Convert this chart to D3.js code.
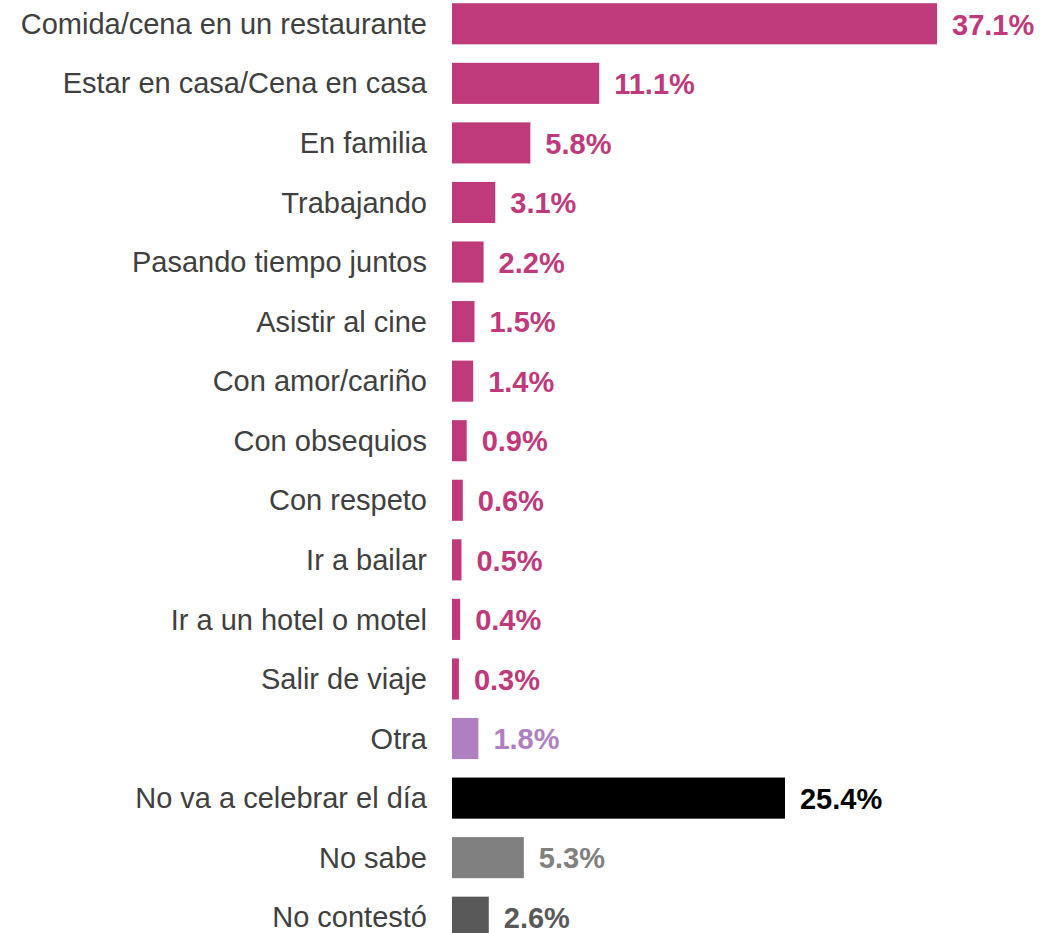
<!DOCTYPE html>
<html>
<head>
<meta charset="utf-8">
<script src="https://cdn.jsdelivr.net/npm/d3@7/dist/d3.min.js"></script>
<style>
  html, body { margin: 0; padding: 0; background: #ffffff; }
  svg { display: block; }
  text { font-family: "Liberation Sans", Arial, sans-serif; }
</style>
</head>
<body>
<svg id="chart" width="1040" height="933"></svg>
<script>
const categories = [
  "Comida/cena en un restaurante",
  "Estar en casa/Cena en casa",
  "En familia",
  "Trabajando",
  "Pasando tiempo juntos",
  "Asistir al cine",
  "Con amor/cariño",
  "Con obsequios",
  "Con respeto",
  "Ir a bailar",
  "Ir a un hotel o motel",
  "Salir de viaje",
  "Otra",
  "No va a celebrar el día",
  "No sabe",
  "No contestó"
];
const values = [37.1, 11.1, 5.8, 3.1, 2.2, 1.5, 1.4, 0.9, 0.6, 0.5, 0.4, 0.3, 1.8, 25.4, 5.3, 2.6];
const valueLabels = ["37.1%", "11.1%", "5.8%", "3.1%", "2.2%", "1.5%", "1.4%", "0.9%", "0.6%", "0.5%", "0.4%", "0.3%", "1.8%", "25.4%", "5.3%", "2.6%"];
const colors = ["#BE3A7A", "#BE3A7A", "#BE3A7A", "#BE3A7A", "#BE3A7A", "#BE3A7A", "#BE3A7A", "#BE3A7A", "#BE3A7A", "#BE3A7A", "#BE3A7A", "#BE3A7A", "#B07FC2", "#000000", "#808080", "#595959"];

const data = categories.map((c, i) => ({ cat: c, v: values[i], label: valueLabels[i], color: colors[i] }));

const svg = d3.select("#chart");
const barLeft = 452;
const x = d3.scaleLinear().domain([0, 37.1]).range([455, 937]);
const y = d3.scaleBand().domain(categories).range([-6, 947]).paddingInner(0.31).paddingOuter(0.155);

const g = svg.append("g");

g.selectAll("rect.bar").data(data).join("rect")
  .attr("class", "bar")
  .attr("x", barLeft)
  .attr("y", d => y(d.cat))
  .attr("width", d => x(d.v) - barLeft)
  .attr("height", y.bandwidth())
  .attr("fill", d => d.color);

g.selectAll("text.cat").data(data).join("text")
  .attr("class", "cat")
  .attr("x", 427)
  .attr("y", d => y(d.cat) + y.bandwidth() / 2)
  .attr("dy", "0.35em")
  .attr("text-anchor", "end")
  .attr("font-size", 29)
  .attr("fill", "#404040")
  .text(d => d.cat);

g.selectAll("text.val").data(data).join("text")
  .attr("class", "val")
  .attr("x", d => x(d.v) + 15)
  .attr("y", d => y(d.cat) + y.bandwidth() / 2)
  .attr("dy", "0.37em")
  .attr("font-size", 29)
  .attr("font-weight", "bold")
  .attr("fill", d => d.color)
  .text(d => d.label);
</script>
</body>
</html>
